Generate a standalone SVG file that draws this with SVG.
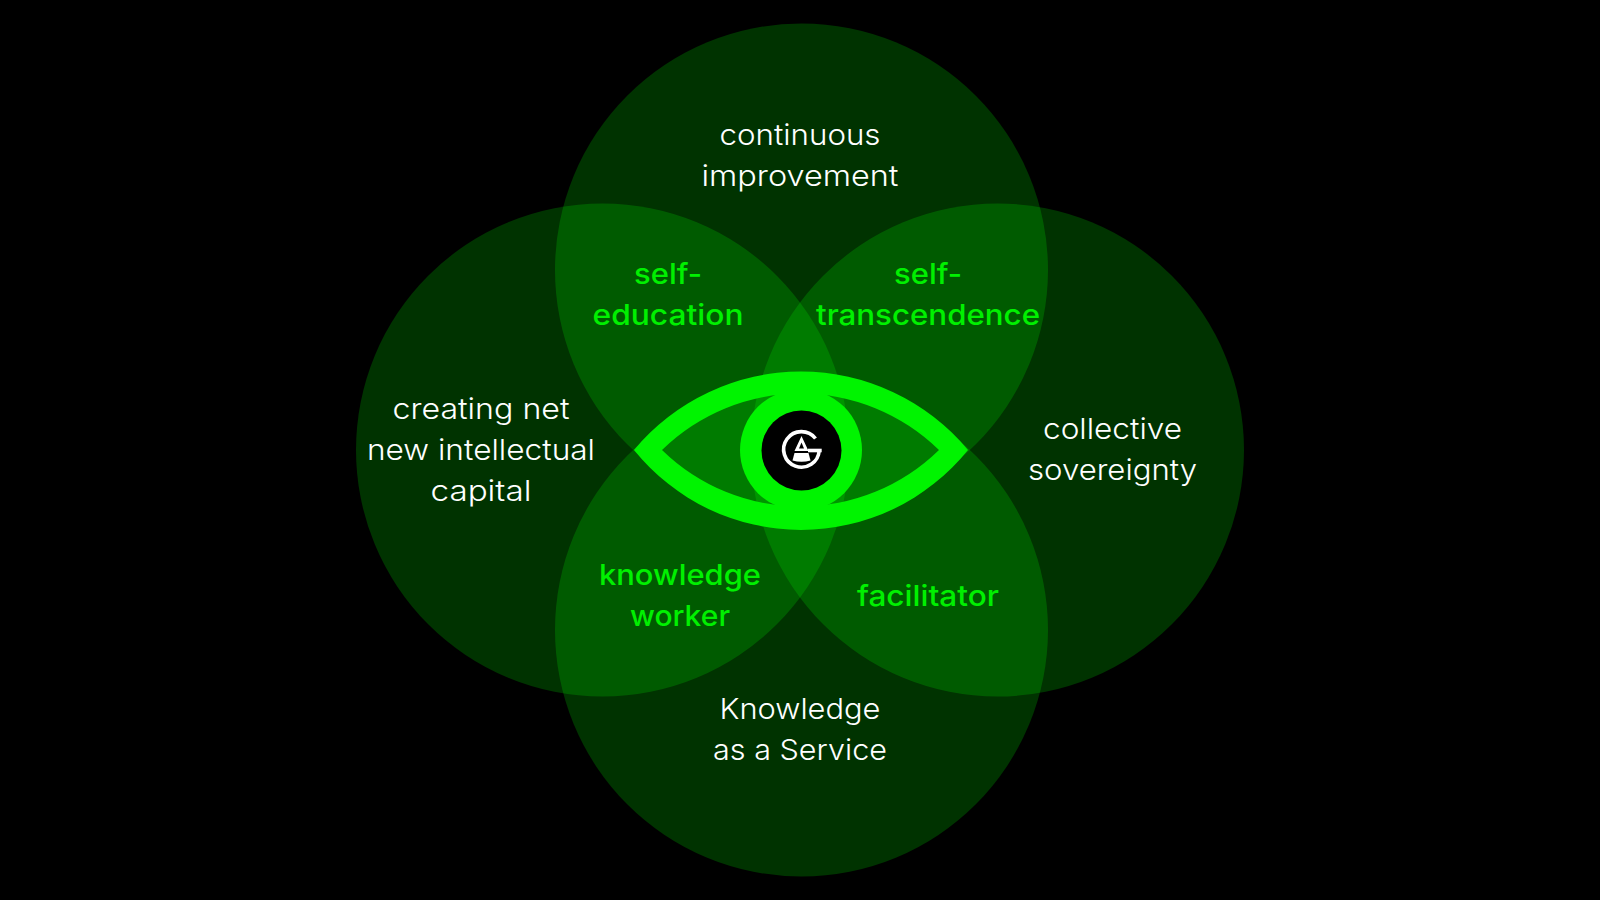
<svg xmlns="http://www.w3.org/2000/svg" width="1600" height="900" viewBox="0 0 1600 900">
<style>
.c{fill:#00ff00;fill-opacity:.2}
text{font-family:"Inter","Liberation Sans",sans-serif;font-size:29px;text-anchor:middle}
.w{fill:#fff;font-weight:300}
.g{fill:#00f000;font-weight:500}
.k{fill:#000}
.l{fill:#fff}
</style>
<rect width="1600" height="900" fill="#000"/>
<g id="circles">
<circle class="c" cx="801.5" cy="270" r="246.5"/>
<circle class="c" cx="602.5" cy="450" r="246.5"/>
<circle class="c" cx="997.5" cy="450" r="246.5"/>
<circle class="c" cx="801.5" cy="630" r="246.5"/>
</g>
<g id="eye">
<path fill="#00f400" fill-rule="evenodd" d="M634 450A217 217 0 0 1 968 450A214.5 214.5 0 0 1 634 450ZM662 450A198 198 0 0 1 939 450A198 198 0 0 1 662 450Z"/>
<circle cx="801" cy="450" r="61" fill="#00f400"/>
<circle class="k" cx="801.5" cy="450.5" r="40"/>
</g>
<g id="logo">
<path d="M815.5 438.5A17.8 17.8 0 1 0 819.2 450.5" fill="none" stroke="#fff" stroke-width="3.6"/>
<rect class="l" x="808" y="448.7" width="13.7" height="3.6"/>
<path class="l" fill-rule="evenodd" d="M801.5 436L808.5 451H794.5ZM801.5 442.5L799 448.5H804Z"/>
<path class="l" d="M794.5 453H808.5L810.5 460.5Q801.5 463 792.5 460.5Z"/>
</g>
<g id="continuous-improvement"><text class="w" x="800" y="145" textLength="161" lengthAdjust="spacingAndGlyphs">continuous</text><text class="w" x="800" y="186" textLength="197" lengthAdjust="spacingAndGlyphs">improvement</text></g>
<g id="creating-capital"><text class="w" x="481" y="419" textLength="177" lengthAdjust="spacingAndGlyphs">creating net</text><text class="w" x="481" y="460" textLength="228" lengthAdjust="spacingAndGlyphs">new intellectual</text><text class="w" x="481" y="501" textLength="101" lengthAdjust="spacingAndGlyphs">capital</text></g>
<g id="collective-sovereignty"><text class="w" x="1112.5" y="439" textLength="139" lengthAdjust="spacingAndGlyphs">collective</text><text class="w" x="1112.5" y="480" textLength="169" lengthAdjust="spacingAndGlyphs">sovereignty</text></g>
<g id="knowledge-service"><text class="w" x="800" y="719" textLength="161" lengthAdjust="spacingAndGlyphs">Knowledge</text><text class="w" x="800" y="760" textLength="174" lengthAdjust="spacingAndGlyphs">as a Service</text></g>
<g id="self-education"><text class="g" x="668" y="284" textLength="68" lengthAdjust="spacingAndGlyphs">self-</text><text class="g" x="668" y="325" textLength="151" lengthAdjust="spacingAndGlyphs">education</text></g>
<g id="self-transcendence"><text class="g" x="928" y="284" textLength="68" lengthAdjust="spacingAndGlyphs">self-</text><text class="g" x="928" y="325" textLength="224" lengthAdjust="spacingAndGlyphs">transcendence</text></g>
<g id="knowledge-worker"><text class="g" x="680" y="585" textLength="162" lengthAdjust="spacingAndGlyphs">knowledge</text><text class="g" x="680" y="626" textLength="100" lengthAdjust="spacingAndGlyphs">worker</text></g>
<g id="facilitator"><text class="g" x="928" y="606" textLength="142" lengthAdjust="spacingAndGlyphs">facilitator</text></g>
</svg>
